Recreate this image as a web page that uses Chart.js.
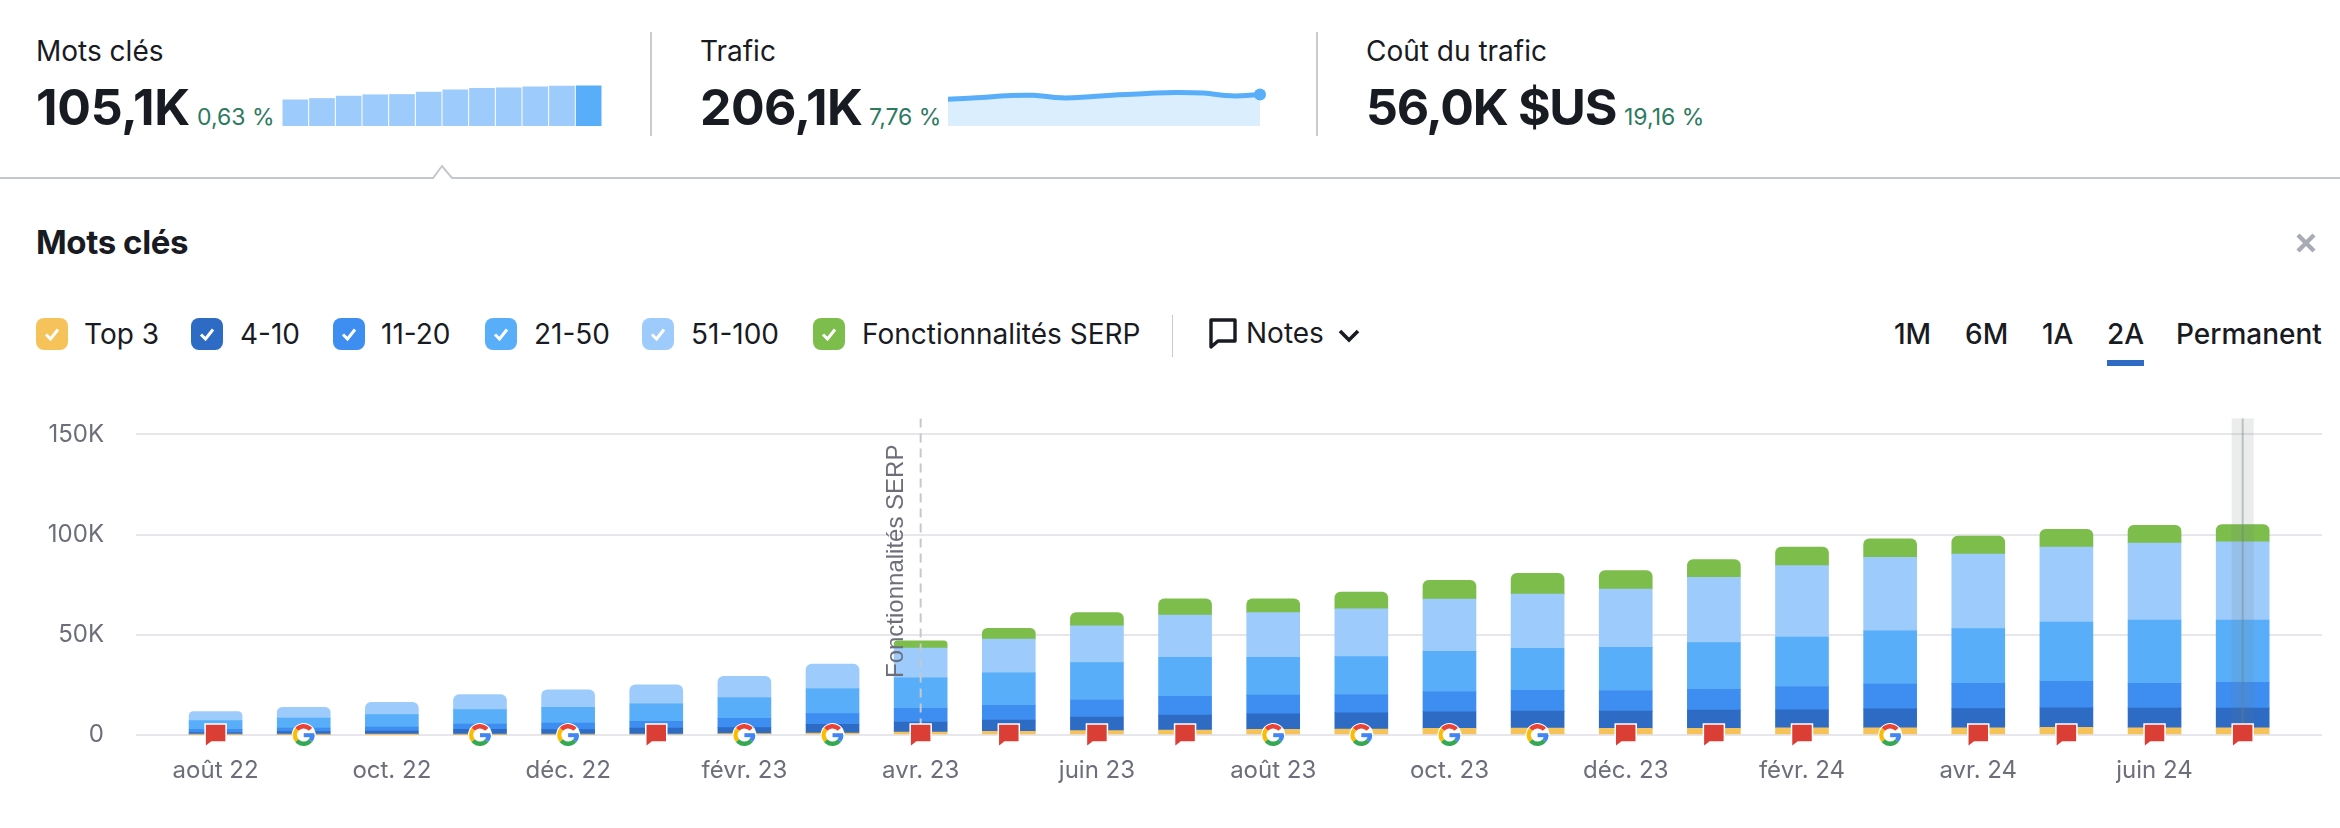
<!DOCTYPE html>
<html lang="fr">
<head>
<meta charset="utf-8">
<title>Mots clés</title>
<script src="https://cdn.jsdelivr.net/npm/chart.js@4"></script>
<style>
  html, body { margin: 0; padding: 0; background: #fff; width: 2340px; height: 828px; overflow: hidden; }
  body { position: relative; font-family: Inter, sans-serif; color: #191b23; }
  .t { position: absolute; white-space: nowrap; line-height: 1; }
  .label { font-size: 28px; }
  .big { font-size: 50px; font-weight: 700; letter-spacing: -0.3px; }
  .pct { font-size: 23px; color: #2c7a60; }
  .leg { font-size: 28px; }
  .box { position: absolute; top: 318px; width: 32px; height: 32px; border-radius: 8px; }
  .box svg { display: block; }
  .rule { position: absolute; background: #c9cbd1; width: 2px; }
  canvas { position: absolute; }
</style>
</head>
<body>
<span class="t label" style="left:36px;top:37px">Mots clés</span>
<span class="t big" style="left:36px;top:82px">105,1K</span>
<span class="t pct" style="left:197px;top:106px">0,63 %</span>
<div class="rule" style="left:650px;top:32px;height:104px"></div>
<span class="t label" style="left:700px;top:37px">Trafic</span>
<span class="t big" style="left:700px;top:82px;letter-spacing:-0.6px">206,1K</span>
<span class="t pct" style="left:869px;top:106px">7,76 %</span>
<div class="rule" style="left:1316px;top:32px;height:104px"></div>
<span class="t label" style="left:1366px;top:37px">Coût du trafic</span>
<span class="t big" style="left:1366px;top:82px;letter-spacing:-1.3px">56,0K $US</span>
<span class="t pct" style="left:1624px;top:106px">19,16 %</span>

<svg style="position:absolute;left:0;top:160px" width="2340" height="24">
  <path d="M0 18 H433 L442 6 L452 18 H2340" fill="none" stroke="#c4c7cd" stroke-width="2"/>
</svg>

<span class="t" style="left:36px;top:226px;font-size:33px;font-weight:700;letter-spacing:-0.4px">Mots clés</span>
<svg style="position:absolute;left:2295px;top:232px" width="22" height="22">
  <path d="M3 3 L19 19 M19 3 L3 19" stroke="#a8abb5" stroke-width="4.4"/>
</svg>

<div id="legend"></div>
<div class="rule" style="left:1172px;top:315px;height:42px;width:1px"></div>
<svg style="position:absolute;left:1207px;top:316px" width="32" height="34">
  <path d="M4 4 H28 V25 H11 L4 31 Z" fill="none" stroke="#191b23" stroke-width="3.4" stroke-linejoin="round"/>
</svg>
<span class="t leg" style="left:1246px;top:319px">Notes</span>
<svg style="position:absolute;left:1337px;top:326px" width="24" height="20">
  <path d="M3 5 L12 14 L21 5" fill="none" stroke="#191b23" stroke-width="3.6"/>
</svg>
<span class="t leg" style="left:1894px;top:320px;font-weight:500">1M</span>
<span class="t leg" style="left:1965px;top:320px;font-weight:500">6M</span>
<span class="t leg" style="left:2042px;top:320px;font-weight:500">1A</span>
<span class="t leg" style="left:2107px;top:320px;font-weight:500">2A</span>
<span class="t leg" style="left:2176px;top:320px;font-weight:500">Permanent</span>
<div style="position:absolute;left:2107px;top:360px;width:37px;height:6px;background:#2d6bc4"></div>

<canvas id="miniBars" width="320" height="41" style="left:282px;top:85px"></canvas>
<canvas id="miniLine" width="330" height="56" style="left:940px;top:70px"></canvas>
<canvas id="mainChart" width="2340" height="440" style="left:0;top:388px"></canvas>

<script>
// months on the x axis, every second one gets a tick label
const months = ['août 22','sept. 22','oct. 22','nov. 22','déc. 22','janv. 23','févr. 23','mars 23',
  'avr. 23','mai 23','juin 23','juil. 23','août 23','sept. 23','oct. 23','nov. 23',
  'déc. 23','janv. 24','févr. 24','mars 24','avr. 24','mai 24','juin 24','juil. 24'];
const tickMonths = [0, 2, 4, 6, 8, 10, 12, 14, 16, 18, 20, 22];
const yTicks = [0, 50, 100, 150];

// values in thousands of keywords
const top3 = [0.3,0.3,0.2,0.3,0.4,0.5,0.7,1.0,1.5,1.8,2.2,2.5,2.8,3.0,3.3,3.5,3.3,3.3,3.6,3.6,3.6,3.8,3.6,3.6];
const pos4to10 = [0.9,1.4,1.8,2.5,2.3,2.9,3.0,4.3,5.0,5.6,6.8,7.4,7.8,8.1,8.3,8.4,8.6,9.1,8.9,9.4,9.6,9.8,9.8,9.8];
const pos11to20 = [1.6,1.8,2.0,2.7,3.3,3.4,4.6,5.4,6.8,7.4,8.4,9.4,9.3,9.1,9.9,10.4,10.3,10.4,11.7,12.4,12.6,13.2,12.4,12.9];
const pos21to50 = [4.4,5.0,6.2,7.2,7.8,8.7,10.4,12.5,15.2,16.2,18.7,19.4,18.9,18.9,20.2,21.0,21.5,23.3,24.6,26.6,27.3,29.6,31.6,31.1];
const pos51to100 = [4.5,5.3,6.1,7.5,8.7,9.5,10.6,12.2,14.9,16.9,18.4,21.2,22.3,23.8,26.1,27.0,29.1,32.6,35.7,36.6,37.2,37.4,38.4,39.0];
const serp = [null,null,null,null,null,null,null,null,3.6,5.3,6.6,8.1,6.8,8.4,9.4,10.4,9.3,8.8,9.3,9.3,8.9,8.8,8.8,8.6];

// note markers under the bars: f = red flag, g = google update
const markers = ['f','g',null,'g','g','f','g','g','f','f','f','f','g','g','g','g','f','f','f','g','f','f','f','f'];
const serpLineIndex = 8;
const serpLineLabel = 'Fonctionnalités SERP';
const hoverIndex = 23;

// header sparklines
const miniKeywords = [68.3,71.8,78,81.5,82.3,88.5,94.6,98.1,99.9,102.5,104.2,105.1];
const miniTraffic = [175,184,197,201,184,191,204,212,219,215,197,206];

const legendLabels = ['Top 3','4-10','11-20','21-50','51-100','Fonctionnalités SERP'];
const colors = ['#f6c35a','#2d6bc4','#3e8df0','#58aef8','#9dcbfb','#7dbd4b'];
const legendBoxX = [36,191,333,485,642,813];
const legendTextX = [84,240,381,534,691,862];

const legend = document.getElementById('legend');
legendLabels.forEach((name, i) => {
    legend.insertAdjacentHTML('beforeend',
        `<div class="box" style="left:${legendBoxX[i]}px;background:${colors[i]}">` +
        `<svg width="32" height="32"><path d="M10 16.5 L14.5 21 L22 11.5" fill="none" stroke="#fff" stroke-width="3"/></svg></div>` +
        `<span class="t leg" style="left:${legendTextX[i]}px;top:320px">${name}</span>`);
});

Chart.defaults.font.family = 'Inter, sans-serif';
Chart.defaults.animation = false;

function series(label, values, color, isTop) {
    return {
        label: label,
        data: months.map((m, i) => ({ x: i, y: values[i] })),
        backgroundColor: color,
        barThickness: 53,
        borderWidth: 0,
        borderRadius: ctx => {
            // round the top segment of each bar only
            const topSeg = isTop || (label === '51-100' && serp[ctx.dataIndex] === null);
            const r = topSeg ? 6 : 0;
            return { topLeft: r, topRight: r, bottomLeft: 0, bottomRight: 0 };
        }
    };
}

function drawFlag(ctx, x, y) {
    ctx.beginPath();
    ctx.moveTo(x - 10.5, y - 11);
    ctx.lineTo(x + 10.5, y - 11);
    ctx.lineTo(x + 10.5, y + 7);
    ctx.lineTo(x - 4, y + 7);
    ctx.lineTo(x - 10.5, y + 12);
    ctx.closePath();
    ctx.fillStyle = '#db3e35';
    ctx.strokeStyle = '#fff';
    ctx.lineWidth = 1.5;
    ctx.fill();
    ctx.stroke();
}

function drawGoogle(ctx, x, y) {
    const rad = d => d * Math.PI / 180;
    ctx.beginPath();
    ctx.arc(x, y, 12, 0, Math.PI * 2);
    ctx.fillStyle = '#fff';
    ctx.fill();
    const parts = [['#ea4335',-140,-40],['#fbbc05',140,220],['#34a853',40,140],['#4285f4',0,40]];
    ctx.lineWidth = 4.4;
    parts.forEach(p => {
        ctx.beginPath();
        ctx.arc(x, y, 8.8, rad(p[1]), rad(p[2]));
        ctx.strokeStyle = p[0];
        ctx.stroke();
    });
    ctx.fillStyle = '#4285f4';
    ctx.fillRect(x, y - 1.8, 10.5, 4);
}

const overlays = {
    id: 'overlays',
    afterDatasetsDraw(chart) {
        const ctx = chart.ctx;
        const xs = chart.scales.x;
        const ys = chart.scales.y;
        const base = ys.getPixelForValue(0);
        const top = ys.getPixelForValue(150) - 16;

        // dashed line and rotated label
        const lx = xs.getPixelForValue(serpLineIndex);
        ctx.save();
        ctx.strokeStyle = '#c6c8cd';
        ctx.lineWidth = 2;
        ctx.setLineDash([9, 6]);
        ctx.beginPath();
        ctx.moveTo(lx, top);
        ctx.lineTo(lx, base);
        ctx.stroke();
        ctx.setLineDash([]);
        ctx.translate(lx - 24, base - 57);
        ctx.rotate(-Math.PI / 2);
        ctx.font = '24px "Liberation Sans", Arial, sans-serif';
        ctx.fillStyle = '#6c6e79';
        ctx.textAlign = 'left';
        ctx.textBaseline = 'middle';
        ctx.fillText(serpLineLabel, 0, 0);
        ctx.restore();

        // hovered month band
        const hx = xs.getPixelForValue(hoverIndex);
        ctx.fillStyle = 'rgba(110,125,125,0.14)';
        ctx.fillRect(hx - 11, top, 22, base - top);
        ctx.fillStyle = 'rgba(110,125,125,0.4)';
        ctx.fillRect(hx - 1, top, 2, base - top);

        markers.forEach((m, i) => {
            const x = xs.getPixelForValue(i);
            if (m === 'f') drawFlag(ctx, x, base);
            if (m === 'g') drawGoogle(ctx, x, base);
        });
    }
};

const mainChart = new Chart(document.getElementById('mainChart'), {
    type: 'bar',
    data: {
        datasets: [
            series(legendLabels[0], top3, colors[0]),
            series(legendLabels[1], pos4to10, colors[1]),
            series(legendLabels[2], pos11to20, colors[2]),
            series(legendLabels[3], pos21to50, colors[3]),
            series(legendLabels[4], pos51to100, colors[4]),
            series(legendLabels[5], serp, colors[5], true)
        ]
    },
    options: {
        responsive: false,
        layout: { autoPadding: false, padding: { top: 46, right: 18, left: 0, bottom: 0 } },
        plugins: { legend: { display: false }, tooltip: { enabled: false } },
        scales: {
            x: {
                type: 'linear',
                stacked: true,
                offset: false,
                min: -0.903,
                max: 23.9,
                grid: { display: false },
                border: { display: false },
                afterBuildTicks: scale => { scale.ticks = tickMonths.map(v => ({ value: v })); },
                afterFit: scale => { scale.height = 93; },
                ticks: {
                    autoSkip: false,
                    maxRotation: 0,
                    color: '#6c6e79',
                    font: { size: 24 },
                    padding: 13,
                    callback: v => months[v]
                }
            },
            y: {
                stacked: true,
                min: 0,
                max: 150,
                afterBuildTicks: scale => { scale.ticks = yTicks.map(v => ({ value: v })); },
                afterFit: scale => { scale.width = 136; },
                grid: { color: '#e6e6eb', lineWidth: 2, drawTicks: false },
                border: { display: false },
                ticks: {
                    color: '#6c6e79',
                    font: { size: 24 },
                    padding: 32,
                    callback: v => (v === 0 ? '0' : v + 'K')
                }
            }
        }
    },
    plugins: [overlays]
});

new Chart(document.getElementById('miniBars'), {
    type: 'bar',
    data: {
        labels: miniKeywords.map((v, i) => i),
        datasets: [{
            data: miniKeywords,
            barThickness: 25,
            backgroundColor: miniKeywords.map((v, i) => (i === miniKeywords.length - 1 ? '#58aef8' : '#9dcbfb'))
        }]
    },
    options: {
        responsive: false,
        plugins: { legend: { display: false }, tooltip: { enabled: false } },
        scales: { x: { display: false }, y: { display: false, min: 0, max: 107 } }
    }
});

new Chart(document.getElementById('miniLine'), {
    type: 'line',
    data: {
        labels: miniTraffic.map((v, i) => i),
        datasets: [{
            data: miniTraffic,
            borderColor: '#58aef8',
            backgroundColor: '#dbeefd',
            borderWidth: 5,
            fill: 'origin',
            tension: 0.4,
            clip: false,
            pointRadius: miniTraffic.map((v, i) => (i === miniTraffic.length - 1 ? 6 : 0)),
            pointBackgroundColor: '#58aef8',
            pointBorderWidth: 0
        }]
    },
    options: {
        responsive: false,
        layout: { autoPadding: false, padding: { left: 8, right: 10, top: 0, bottom: 0 } },
        plugins: { legend: { display: false }, tooltip: { enabled: false } },
        scales: { x: { display: false }, y: { display: false, min: 0, max: 366 } }
    }
});
</script>
</body>
</html>
